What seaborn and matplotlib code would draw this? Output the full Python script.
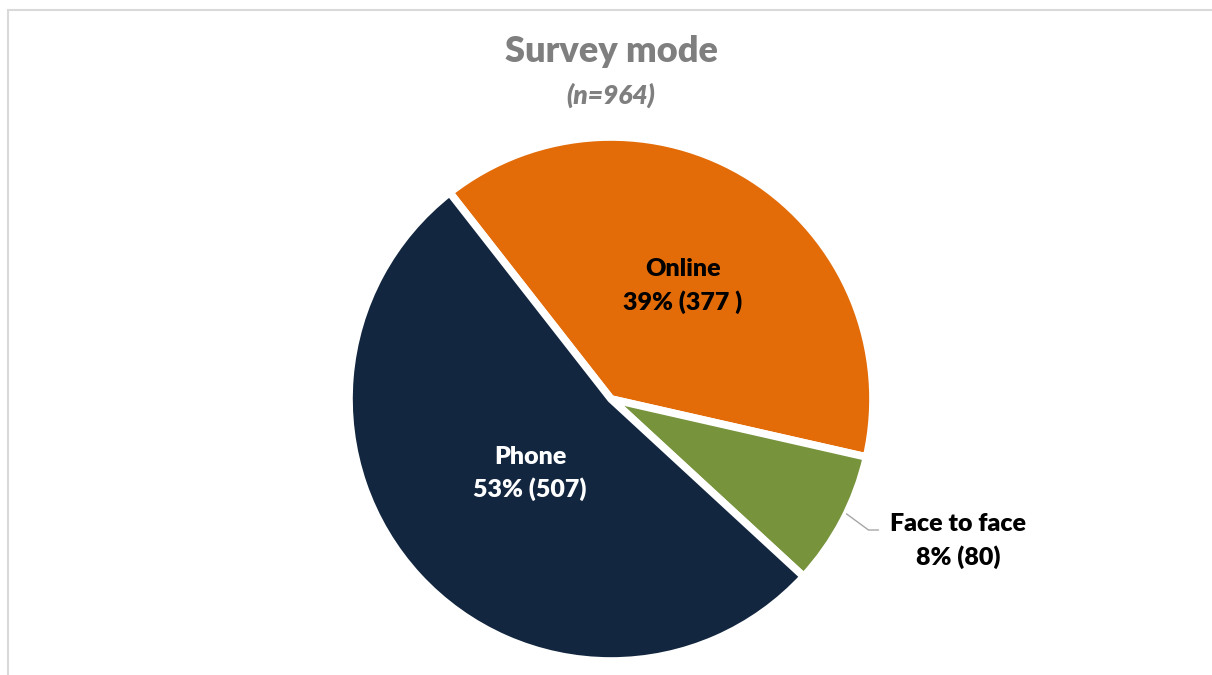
import matplotlib.pyplot as plt
import numpy as np
import seaborn as sns
from matplotlib.patches import Rectangle

sns.set_theme(style="white")
plt.rcParams["font.family"] = ["Lato", "DejaVu Sans"]

# data
categories = ["Online", "Face to face", "Phone"]
counts = [377, 80, 507]
percents = [39, 8, 53]
colors = ["#E36C09", "#77933C", "#12263F"]
label_colors = ["black", "black", "white"]
title = "Survey mode"
subtitle = "(n=964)"

W, H = 1212, 675
fig = plt.figure(figsize=(W / 100, H / 100), dpi=100)
ax = fig.add_axes([0, 0, 1, 1])

# light frame of the chart area
ax.add_patch(Rectangle((8, -20), W + 20, H - 10 + 20, fill=False,
                       edgecolor="#d9d9d9", linewidth=1.5))

cx, cy, R = 611, H - 399, 262
wedges, _ = ax.pie(counts, colors=colors, startangle=128, counterclock=False,
                   center=(cx, cy), radius=R, frame=True,
                   wedgeprops=dict(edgecolor="white", linewidth=5.5))
ax.set_xlim(0, W)
ax.set_ylim(0, H)
ax.set_aspect("equal")
ax.axis("off")

# labels inside / outside
inside_r = {"Online": 0.51, "Phone": 0.42}
for w, cat, n, p, tc in zip(wedges, categories, counts, percents, label_colors):
    mid = np.deg2rad((w.theta1 + w.theta2) / 2)
    txt = f"{cat}\n{p}% ({n}{' ' if cat == 'Online' else ''})"
    if cat in inside_r:
        r = inside_r[cat] * R
        ax.text(cx + r * np.cos(mid), cy + r * np.sin(mid), txt, ha="center",
                va="center", fontsize=18, fontweight="heavy", color=tc,
                linespacing=1.5)
    else:
        a0 = np.deg2rad(-26)
        x0, y0 = cx + R * np.cos(a0), cy + R * np.sin(a0)
        lx, ly = cx + 347, H - 541
        ax.plot([x0, x0 + 22, x0 + 32], [y0, H - 530, H - 530],
                color="#a6a6a6", linewidth=1)
        ax.text(lx, ly, txt, ha="center", va="center", fontsize=18,
                fontweight="heavy", color=tc, linespacing=1.5)

ax.text(611, H - 52, title, ha="center", va="center", fontsize=26,
        fontweight="heavy", color="#7f7f7f")
ax.text(611, H - 95, subtitle, ha="center", va="center", fontsize=19,
        fontweight="heavy", fontstyle="italic", color="#7f7f7f")

fig.savefig("out.png", dpi=100)
